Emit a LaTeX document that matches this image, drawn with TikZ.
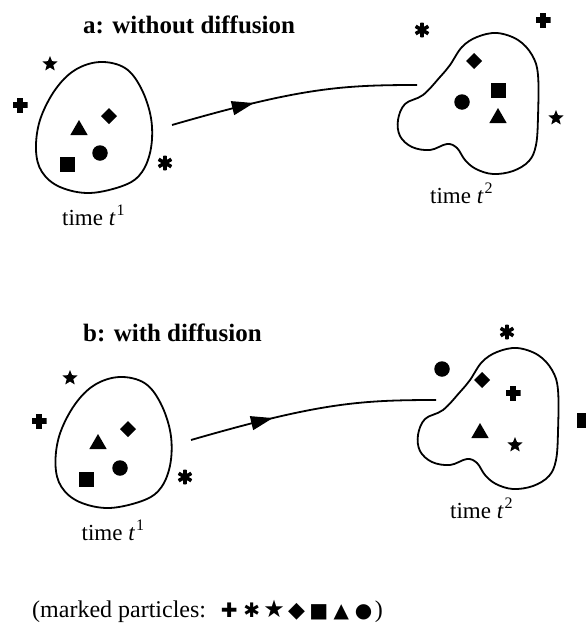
\documentclass[tikz,border=0pt]{standalone}
\usepackage{fontspec}
\setmainfont{Liberation Serif}
\newfontfamily\symfont{DejaVu Sans}
\usetikzlibrary{shapes.geometric,decorations.markings,arrows.meta}

\newcommand\timesup[1]{\kern1pt\raisebox{0.42em}{\fontsize{16}{16}\selectfont #1}}
\newcommand\legendmark[1]{\makebox[22.4pt]{#1}}

\tikzset{
  particle/.style={fill=black, draw=none, inner sep=0pt, outer sep=0pt},
  pcirc/.style={particle, circle, minimum size=15.5pt},
  psq/.style={particle, rectangle, minimum size=15pt},
  pdiam/.style={particle, diamond, minimum size=16pt},
  ptri/.style={particle, regular polygon, regular polygon sides=3, minimum size=20pt},
  pstar/.style={particle, star, star points=5, star point ratio=2.3, minimum size=16pt},
  pplus/.style={inner sep=0pt, rectangle, minimum size=15pt, path picture={
      \fill ([xshift=-2.7pt]path picture bounding box.north) rectangle ([xshift=2.7pt]path picture bounding box.south);
      \fill ([yshift=2.7pt]path picture bounding box.west) rectangle ([yshift=-2.7pt]path picture bounding box.east);}},
  past/.style={inner sep=0pt, circle, minimum size=15pt, path picture={
      \foreach \a in {90,30,150}
        \draw[line width=3.6pt] (path picture bounding box.center) ++(\a:10pt) -- ++(\a+180:20pt);}},
  blob/.style={line width=1.8pt, line join=round},
  flow/.style={line width=1.8pt, postaction={decorate}, decoration={markings,
      mark=at position 0.34 with {\arrow{Triangle[length=22pt,width=14pt]}}}},
  heading/.style={anchor=base west, inner sep=0pt, font=\fontsize{25}{30}\bfseries},
  timelabel/.style={anchor=base west, inner sep=0pt, font=\fontsize{23}{28}\selectfont},
  pics/parcelone/.style={code={
      \draw[blob] plot[smooth cycle, tension=0.6] coordinates {
        (100,62) (125,68) (141,88) (151,118) (151,148) (142,172) (125,185)
        (90,193) (60,187) (42,172) (36,150) (40,120) (55,90) (75,70)};}},
  pics/parceltwo/.style={code={
      \draw[blob] plot[smooth cycle, tension=0.6] coordinates {
        (440,77) (423,95) (405,104) (398,120) (400,136) (412,147) (430,150)
        (447,144) (457,148) (465,160) (476,169) (493,174) (513,171) (529,161)
        (536,145) (538,117) (538,75) (532,55) (518,40) (497,33) (477,37)
        (462,47) (450,65)};}},
}

\begin{document}
\begin{tikzpicture}[x=1pt, y=-1pt]
  \useasboundingbox (0,0) rectangle (586,624);
  \clip (0,0) rectangle (586,624);

  % ---- a: without diffusion ----
  \node[heading] (titleA) at (83,33) {a: without diffusion};

  \pic at (0,0) {parceltwo};
  \pic at (0,0) {parcelone};

  \node[pstar] (a1star) at (50,64) {};
  \node[pplus] (a1plus) at (20,105) {};
  \node[pdiam] (a1diam) at (109,116) {};
  \node[ptri]  (a1tri)  at (79,130) {};
  \node[psq]   (a1sq)   at (67,164) {};
  \node[pcirc] (a1circ) at (100,153) {};
  \node[past]  (a1ast)  at (165,163) {};

  \node[past]  (a2ast)  at (422,30) {};
  \node[pplus] (a2plus) at (543,20) {};
  \node[pdiam] (a2diam) at (474,61) {};
  \node[psq]   (a2sq)   at (498,90) {};
  \node[pcirc] (a2circ) at (462,102) {};
  \node[ptri]  (a2tri)  at (498,118) {};
  \node[pstar] (a2star) at (556,118) {};

  \node[timelabel] (timeA1) at (62,225) {time \textit{t}\timesup{1}};
  \node[timelabel] (timeA2) at (430,203) {time \textit{t}\timesup{2}};

  \coordinate (fromA) at (172,125);
  \coordinate (toA) at (417,85);
  \draw[flow] (fromA) .. controls (300,88) and (340,85) .. (toA);

  % ---- b: with diffusion ----
  \node[heading] (titleB) at (83,341) {b: with diffusion};

  \pic at (20,315) {parceltwo};
  \pic at (19.5,315) {parcelone};

  \node[pstar] (b1star) at (70,378) {};
  \node[pplus] (b1plus) at (39,421) {};
  \node[pdiam] (b1diam) at (128,429) {};
  \node[ptri]  (b1tri)  at (98,444) {};
  \node[psq]   (b1sq)   at (86,479) {};
  \node[pcirc] (b1circ) at (120,468) {};
  \node[past]  (b1ast)  at (185,477) {};

  \node[past]  (b2ast)  at (507,332) {};
  \node[pcirc] (b2circ) at (442,369) {};
  \node[pdiam] (b2diam) at (482,380) {};
  \node[pplus] (b2plus) at (513,393) {};
  \node[ptri]  (b2tri)  at (480,433) {};
  \node[pstar] (b2star) at (515,445) {};
  \node[psq]   (b2sq)   at (584,420) {};

  \node[timelabel] (timeB1) at (81.5,540) {time \textit{t}\timesup{1}};
  \node[timelabel] (timeB2) at (450,518) {time \textit{t}\timesup{2}};

  \coordinate (fromB) at (191,440);
  \coordinate (toB) at (436,400);
  \draw[flow] (fromB) .. controls (319,403) and (359,400) .. (toB);

  % ---- legend ----
  \node[timelabel, font=\fontsize{24}{28}\selectfont] (legend) at (32,617)
    {(marked particles: \hspace{4pt}{\symfont\fontsize{20}{22}\selectfont
      \legendmark{✚}\legendmark{✱}\legendmark{\fontsize{24}{24}\selectfont ★}%
      \legendmark{\fontsize{22}{22}\selectfont ◆}%
      \legendmark{■}\legendmark{▲}\legendmark{●}})};
\end{tikzpicture}
\end{document}
